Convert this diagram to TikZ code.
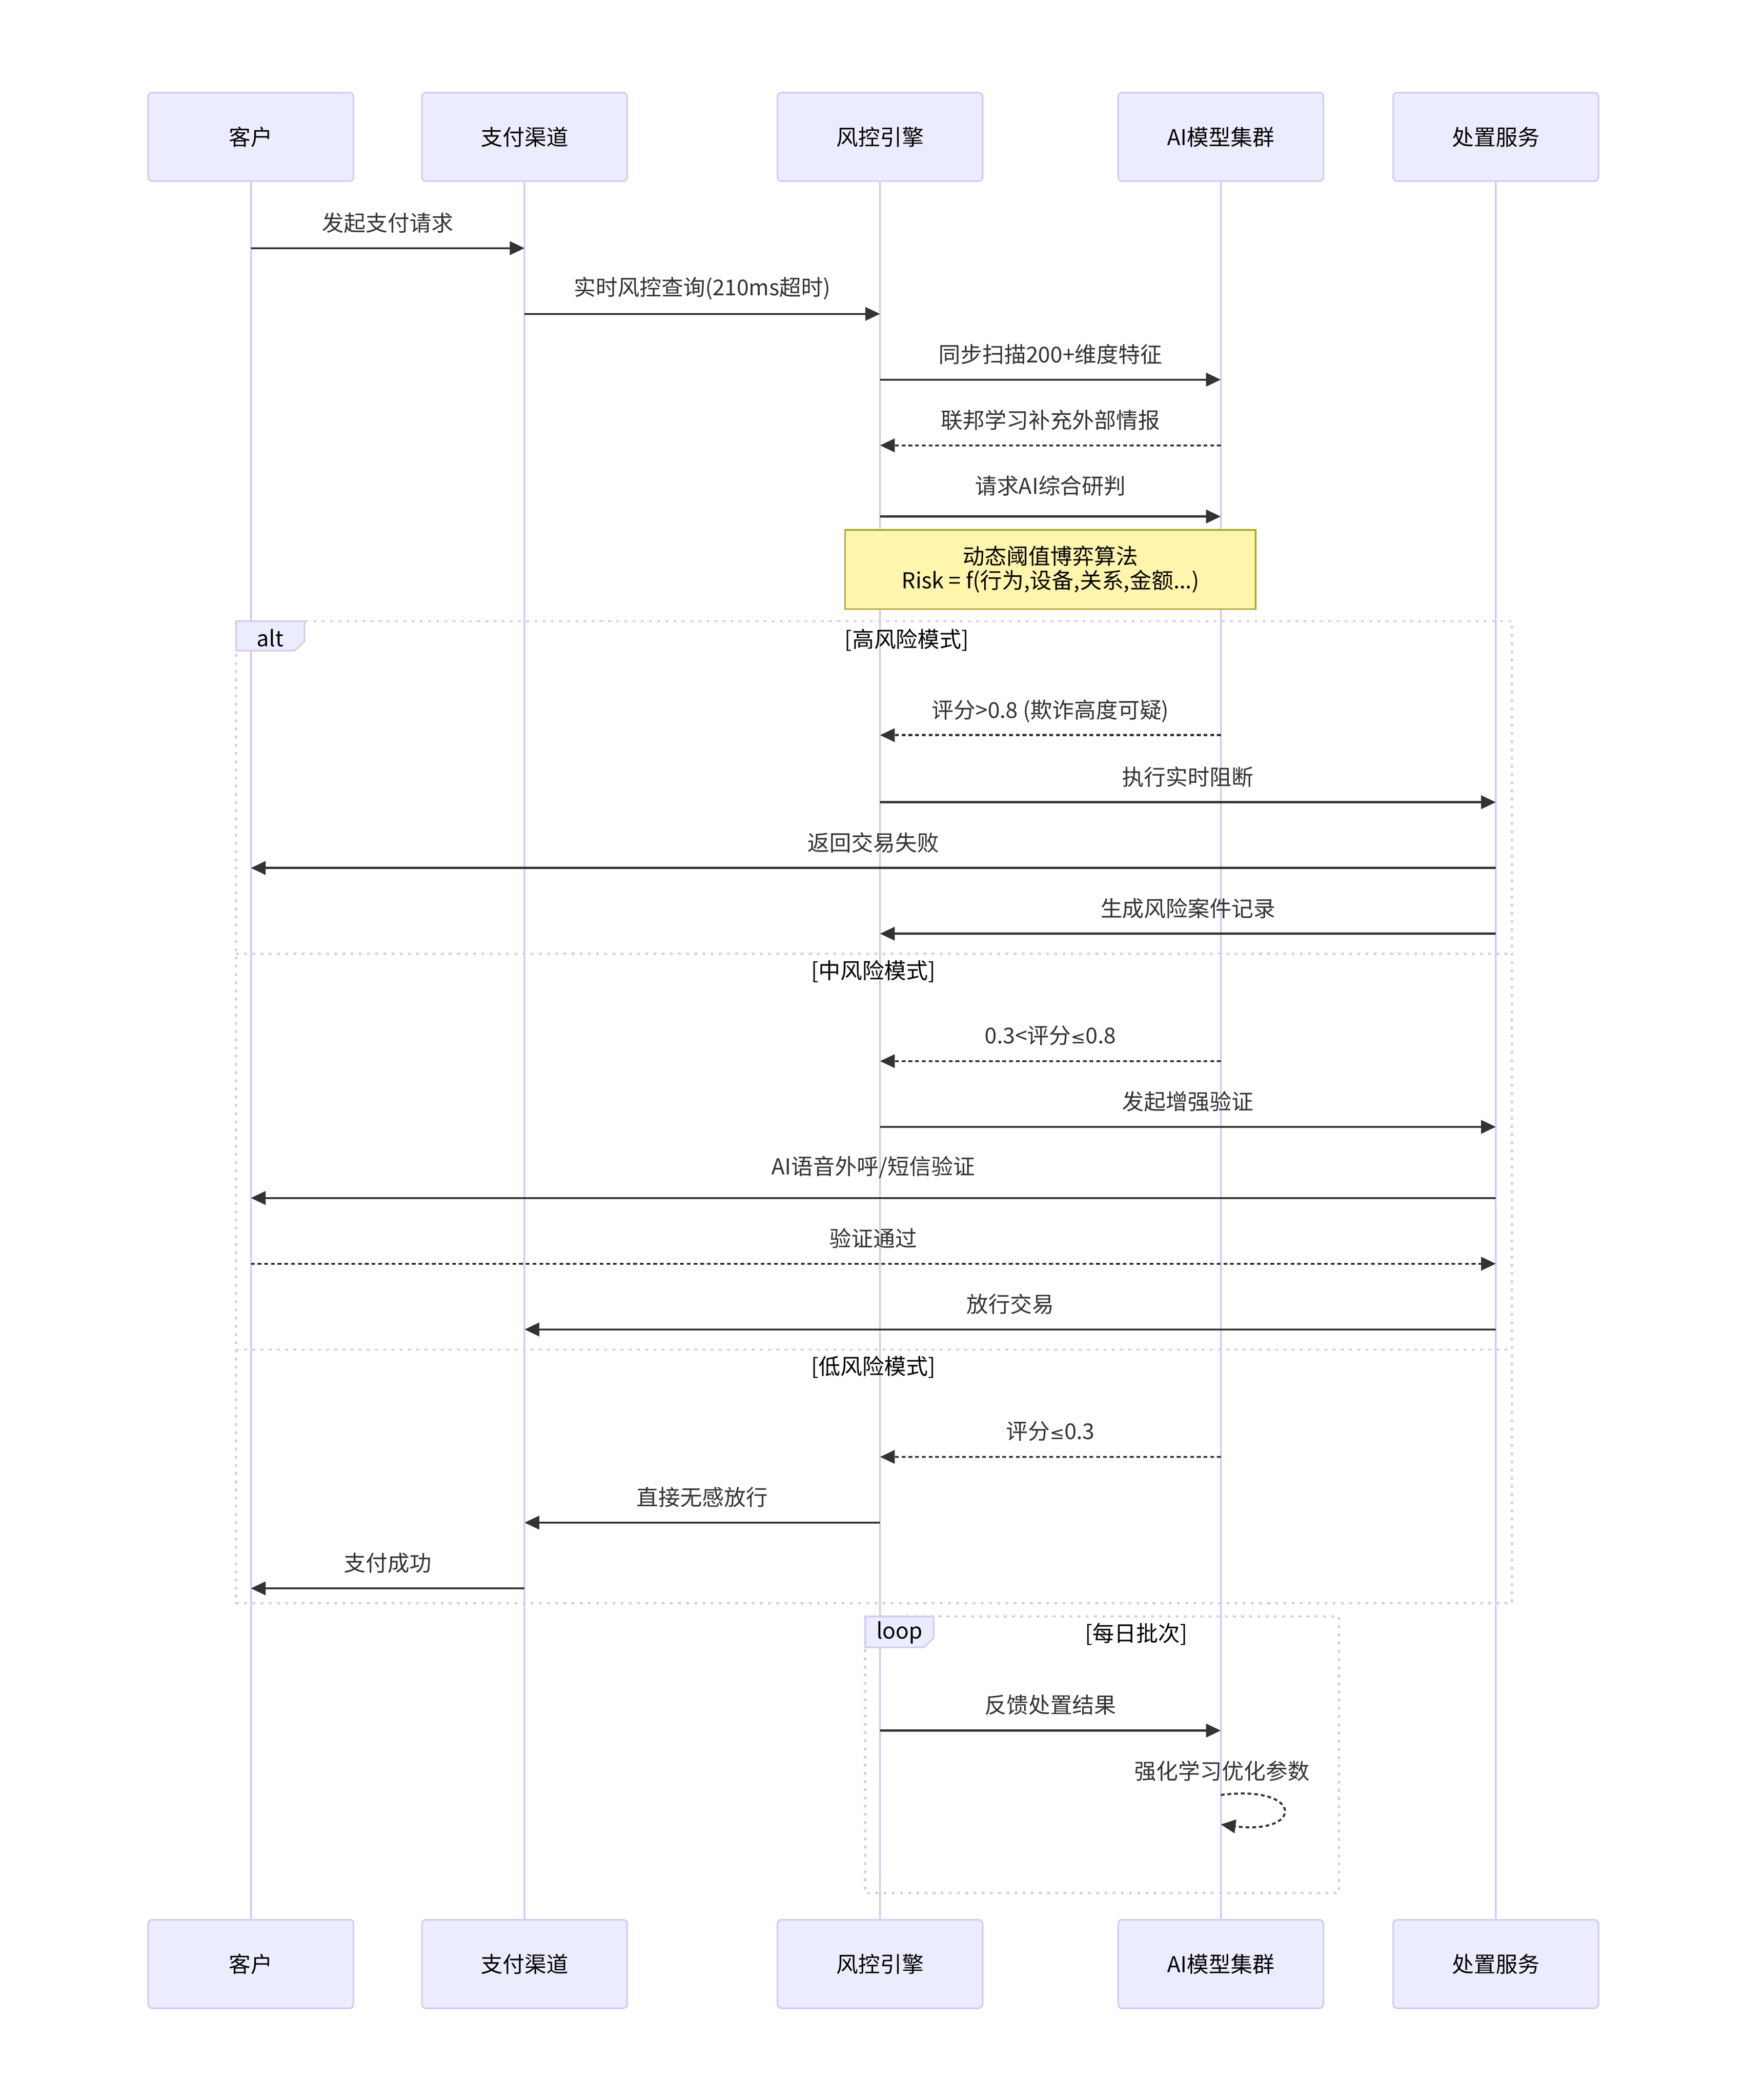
\documentclass[tikz,border=0pt]{standalone}
\usepackage{fontspec}
\setmainfont{Noto Sans CJK SC}
\newfontfamily\symfont{DejaVu Sans}
\usetikzlibrary{arrows.meta}
\definecolor{actfill}{HTML}{ECECFF}
\definecolor{actline}{HTML}{D4CBF3}
\definecolor{msgcol}{HTML}{333333}
\definecolor{notefill}{HTML}{FFF5AD}
\definecolor{noteline}{HTML}{AAAA33}
\newcommand\mfont{\fontsize{16.3}{18}\selectfont}
\newcommand\myleq{{\symfont\fontsize{13}{18}\selectfont ≤}}
\newcommand\sig[6]{%
  \draw[#1] (#2 |- 0,#4) -- (#3 |- 0,#4);
  \path (#2 |- 0,#5) -- node[msgtext]{#6} (#3 |- 0,#5);}
\begin{document}
\begin{tikzpicture}[x=1pt,y=-1pt,
  actor/.style={draw=actline, fill=actfill, line width=1.2pt, rounded corners=3pt,
    minimum width=153pt, minimum height=66pt, inner sep=0pt, font=\mfont, text=black},
  lifeline/.style={draw=actline, line width=1.4pt},
  msgtext/.style={font=\mfont, text=msgcol, inner sep=0pt},
  solidmsg/.style={draw=msgcol, line width=1.5pt, -{Triangle[length=11pt,width=10pt]}},
  dashmsg/.style={solidmsg, dash pattern=on 2.8pt off 2.2pt},
  frame/.style={draw=actline, line width=1.6pt, dash pattern=on 2.1pt off 4pt},
  labelbox/.style={draw=actline, fill=actfill, line width=1.2pt},
  frametext/.style={font=\mfont, text=black, inner sep=0pt},
  note/.style={draw=noteline, fill=notefill, line width=1.2pt, minimum width=306pt,
    minimum height=59pt, inner sep=0pt, align=center, font=\mfont, text=black}]
\useasboundingbox[fill=white] (0,0) rectangle (1300,1565.4);
% actors
\node[actor] (A1) at (187,102) {客户};
\node[actor] (B1) at (391,102) {支付渠道};
\node[actor] (C1) at (656,102) {风控引擎};
\node[actor] (D1) at (910,102) {AI模型集群};
\node[actor] (E1) at (1115,102) {处置服务};
\node[actor] (A2) at (187,1464) {客户};
\node[actor] (B2) at (391,1464) {支付渠道};
\node[actor] (C2) at (656,1464) {风控引擎};
\node[actor] (D2) at (910,1464) {AI模型集群};
\node[actor] (E2) at (1115,1464) {处置服务};
% lifelines
\foreach \p in {A,B,C,D,E} {\draw[lifeline] (\p1.south) -- (\p2.north);}
% messages
\sig{solidmsg}{A1}{B1}{185}{166}{发起支付请求}
\sig{solidmsg}{B1}{C1}{234}{215}{实时风控查询(210ms超时)}
\sig{solidmsg}{C1}{D1}{283}{264}{同步扫描200+维度特征}
\sig{dashmsg}{D1}{C1}{332}{313}{联邦学习补充外部情报}
\sig{solidmsg}{C1}{D1}{385}{362}{请求AI综合研判}
\node[note] (N1) at (783,424.5) {动态阈值博弈算法\\Risk = f(行为,设备,关系,金额...)};
% alt frame
\draw[frame] (176,463) rectangle (1127,1195);
\draw[frame] (176,711) -- (1127,711);
\draw[frame] (176,1006) -- (1127,1006);
\draw[labelbox] (176,463) -- (227,463) -- (227,478) -- (219.6,485) -- (176,485) -- cycle;
\node[frametext] (altlab) at (201.5,475.5) {alt};
\node[frametext] (s1) at (676,477) {[高风险模式]};
\node[frametext] (s2) at (651,724) {[中风险模式]};
\node[frametext] (s3) at (651,1019) {[低风险模式]};
\sig{dashmsg}{D1}{C1}{548}{530}{评分>0.8 (欺诈高度可疑)}
\sig{solidmsg}{C1}{E1}{598}{579}{执行实时阻断}
\sig{solidmsg}{E1}{A1}{647}{628}{返回交易失败}
\sig{solidmsg}{E1}{C1}{696}{677}{生成风险案件记录}
\sig{dashmsg}{D1}{C1}{791}{772}{0.3<评分\myleq0.8}
\sig{solidmsg}{C1}{E1}{840}{821}{发起增强验证}
\sig{solidmsg}{E1}{A1}{893}{870}{AI语音外呼/短信验证}
\sig{dashmsg}{A1}{E1}{942}{923}{验证通过}
\sig{solidmsg}{E1}{B1}{991}{972}{放行交易}
\sig{dashmsg}{D1}{C1}{1086}{1067}{评分\myleq0.3}
\sig{solidmsg}{C1}{B1}{1135}{1116}{直接无感放行}
\sig{solidmsg}{B1}{A1}{1184}{1165}{支付成功}
% loop frame
\draw[frame] (645,1205) rectangle (998,1411);
\draw[labelbox] (645,1205) -- (696,1205) -- (696,1221) -- (688.6,1228) -- (645,1228) -- cycle;
\node[frametext] (looplab) at (670.5,1217) {loop};
\node[frametext] (s4) at (847,1218) {[每日批次]};
\sig{solidmsg}{C1}{D1}{1290}{1271}{反馈处置结果}
\draw[dashmsg] (D1 |- 0,1338) .. controls (972,1330) and (972,1368) .. (D1 |- 0,1360);
\node[msgtext] (selflab) at (911,1320) {强化学习优化参数};
\end{tikzpicture}
\end{document}
